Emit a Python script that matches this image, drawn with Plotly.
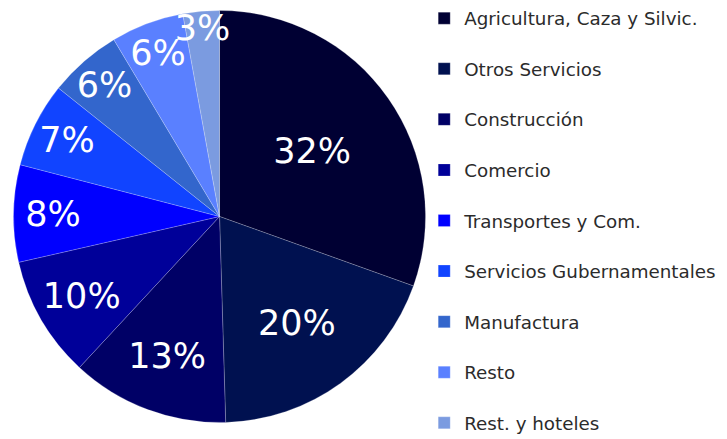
import plotly.graph_objects as go

# ── Data ─────────────────────────────────────────────────────────────────────
SECTORS = [
    "Agricultura, Caza y Silvic.",
    "Otros Servicios",
    "Construcción",
    "Comercio",
    "Transportes y Com.",
    "Servicios Gubernamentales",
    "Manufactura",
    "Resto",
    "Rest. y hoteles",
]
SHARES = [32, 20, 13, 10, 8, 7, 6, 6, 3]

COLORS = [
    "#000033", "#001150", "#000066", "#000099", "#0000ff",
    "#1144ff", "#3366cc", "#5a80ff", "#7b9be0",
]

FONT = "DejaVu Sans, Verdana, sans-serif"

# legend rows are spaced out with an empty second line
legend_labels = [s + "<br> " for s in SECTORS]

fig = go.Figure(go.Pie(
    labels=legend_labels,
    values=SHARES,
    customdata=SECTORS,
    sort=False,
    direction="clockwise",
    rotation=0,
    marker=dict(colors=COLORS, line=dict(color="rgba(255,255,255,0.35)", width=0.6)),
    texttemplate="%{value}%",
    textposition="inside",
    insidetextorientation="horizontal",
    textfont=dict(family=FONT, size=35, color="white"),
    hovertemplate="%{customdata}: %{value}%<extra></extra>",
    domain=dict(x=[0.0076, 0.5743], y=[0.0558, 0.9943]),
))

fig.update_layout(
    width=727, height=439,
    margin=dict(l=0, r=0, t=0, b=0, autoexpand=False),
    paper_bgcolor="white",
    plot_bgcolor="white",
    font=dict(family=FONT, color="#2b2b2b"),
    uniformtext=dict(mode="show", minsize=35),
    legend=dict(
        x=0.5725, xanchor="left",
        y=1.0187, yanchor="top",
        valign="top",
        maxheight=520,
        font=dict(family=FONT, size=18.3, color="#2b2b2b"),
        bgcolor="rgba(0,0,0,0)",
    ),
)

fig.write_html("out.html")
